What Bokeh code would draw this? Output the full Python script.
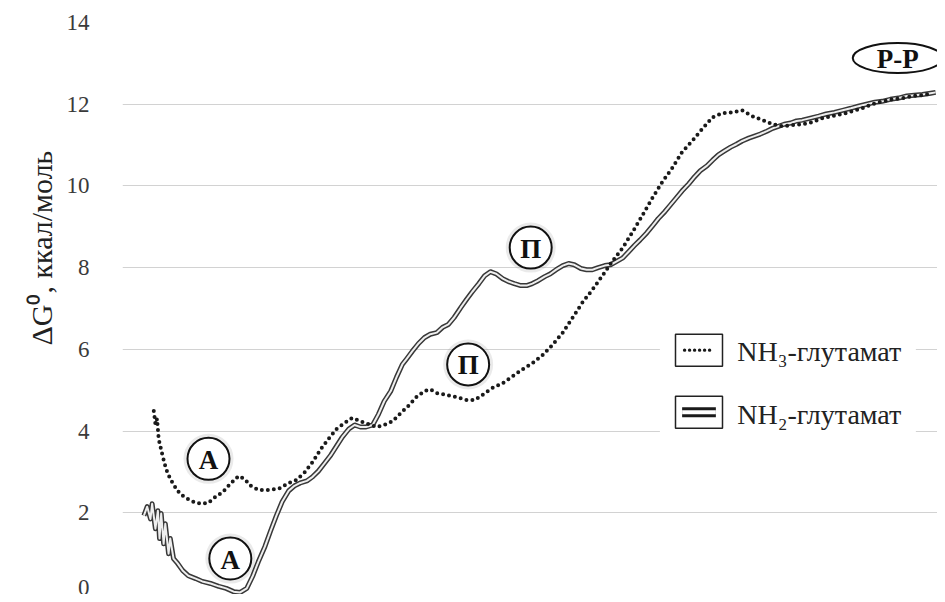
import math
from bokeh.plotting import figure
from bokeh.models import Range1d, FixedTicker, Title
from bokeh.core.properties import value
from bokeh.embed import file_html
from bokeh.resources import INLINE

# ---------------- data ----------------
y_ticks = [0, 2, 4, 6, 8, 10, 12, 14]
y_title = "ΔG⁰, ккал/моль"
series_names = ["NH₃-глутамат", "NH₂-глутамат"]

# NH3-glutamate (dotted)
nh3_x = [3.8, 4.0, 4.2, 4.4, 4.9, 5.3, 5.8, 6.4, 7.0, 8.3, 9.5, 10.4, 11.3, 12.2, 13.1, 14.1,
         14.8, 15.6, 16.5, 17.7, 19.0, 20.2, 21.1, 22.1, 23.1, 24.1, 25.0, 26.0, 27.0, 27.9,
         28.9, 29.9, 30.9, 31.8, 32.8, 33.8, 34.8, 35.7, 36.7, 37.4, 38.2, 39.4, 40.6, 41.8,
         42.8, 43.7, 44.9, 46.2, 47.4, 48.6, 49.8, 51.0, 52.2, 53.5, 54.7, 55.9, 57.1, 58.3,
         59.5, 60.8, 62.0, 63.2, 64.4, 65.6, 66.8, 68.0, 69.3, 70.5, 71.7, 72.9, 74.1, 75.3,
         76.5, 77.8, 79.0, 80.2, 81.4, 82.6, 83.8, 85.1, 86.3, 87.5, 88.7, 89.9, 91.1, 92.3,
         93.6, 94.8, 96.0, 97.2, 98.4]
nh3_y = [4.49, 4.17, 4.30, 3.80, 3.37, 3.07, 2.83, 2.63, 2.46, 2.29, 2.22, 2.24, 2.39, 2.51,
         2.71, 2.90, 2.83, 2.66, 2.56, 2.56, 2.59, 2.73, 2.80, 2.98, 3.24, 3.56, 3.80, 4.05,
         4.20, 4.32, 4.24, 4.17, 4.10, 4.15, 4.24, 4.44, 4.63, 4.83, 4.98, 5.02, 4.93, 4.88,
         4.83, 4.76, 4.76, 4.88, 5.05, 5.17, 5.34, 5.51, 5.66, 5.85, 6.10, 6.41, 6.78, 7.15,
         7.46, 7.80, 8.15, 8.49, 8.88, 9.29, 9.71, 10.10, 10.44, 10.83, 11.12, 11.41, 11.68,
         11.78, 11.80, 11.85, 11.71, 11.61, 11.51, 11.46, 11.49, 11.51, 11.56, 11.66, 11.71,
         11.76, 11.83, 11.90, 12.00, 12.07, 12.12, 12.15, 12.20, 12.22, 12.27]

# NH2-glutamate (double line)
nh2_x = [2.6, 3.0, 3.4, 3.6, 4.0, 4.3, 4.5, 4.7, 5.0, 5.2, 5.6, 5.8, 6.2, 6.7, 7.3, 8.0, 8.9,
         9.7, 10.7, 11.7, 12.6, 13.5, 14.3, 15.1, 15.8, 16.5, 17.3, 18.0, 18.7, 19.4, 20.2,
         20.9, 21.6, 22.4, 23.1, 23.8, 24.5, 25.3, 26.0, 26.7, 27.5, 28.2, 28.9, 29.6, 30.4,
         31.1, 31.8, 32.6, 33.3, 34.0, 34.5, 35.2, 36.0, 36.7, 37.4, 38.2, 38.9, 39.6, 40.3,
         41.1, 41.8, 42.5, 43.3, 44.0, 44.7, 45.4, 46.2, 46.9, 47.6, 48.4, 49.1, 49.8, 50.5,
         51.3, 52.0, 52.7, 53.5, 54.2, 54.9, 55.7, 56.4, 57.1, 57.8, 58.6, 59.3, 60.0, 60.8,
         61.5, 62.2, 62.9, 63.7, 64.4, 65.1, 65.9, 66.6, 67.3, 68.0, 68.8, 69.5, 70.2, 71.0,
         71.7, 72.4, 73.1, 73.9, 74.6, 75.3, 76.1, 76.8, 77.5, 78.3, 79.0, 79.7, 80.4, 81.2,
         81.9, 82.6, 83.6, 84.6, 85.5, 86.5, 87.5, 88.5, 89.4, 90.4, 91.4, 92.3, 93.3, 94.3,
         95.3, 96.2, 97.2, 98.2, 98.8]
nh2_y = [1.93, 2.15, 1.85, 2.22, 1.61, 2.05, 1.37, 1.98, 1.24, 1.73, 1.00, 1.37, 0.88, 0.76,
         0.59, 0.46, 0.39, 0.32, 0.27, 0.20, 0.15, 0.07, 0.05, 0.15, 0.44, 0.80, 1.17, 1.56,
         1.93, 2.27, 2.54, 2.66, 2.73, 2.78, 2.88, 3.02, 3.20, 3.41, 3.63, 3.85, 4.05, 4.15,
         4.10, 4.10, 4.15, 4.41, 4.73, 4.98, 5.32, 5.63, 5.76, 5.95, 6.15, 6.29, 6.37, 6.41,
         6.54, 6.61, 6.78, 7.02, 7.22, 7.41, 7.61, 7.80, 7.90, 7.85, 7.73, 7.66, 7.61, 7.56,
         7.56, 7.61, 7.68, 7.78, 7.85, 7.95, 8.05, 8.10, 8.07, 7.98, 7.95, 7.95, 8.00, 8.05,
         8.07, 8.15, 8.24, 8.39, 8.54, 8.68, 8.85, 9.02, 9.20, 9.37, 9.54, 9.71, 9.88, 10.05,
         10.22, 10.37, 10.49, 10.63, 10.76, 10.85, 10.95, 11.02, 11.10, 11.17, 11.22, 11.27,
         11.34, 11.41, 11.46, 11.51, 11.54, 11.59, 11.61, 11.66, 11.71, 11.76, 11.80, 11.85,
         11.90, 11.95, 12.00, 12.05, 12.07, 12.12, 12.15, 12.20, 12.22, 12.24, 12.27, 12.29]

# circled annotations
ann_text = ["А", "А", "П", "П"]
ann_x = [10.45, 13.1, 49.6, 42.0]
ann_y = [3.32, 0.88, 8.49, 5.63]
rr_text = "Р-Р"
rr_x = 94.2
rr_y = 13.13

# ---------------- figure ----------------
SERIF = "Liberation Serif"
p = figure(width=937, height=594, output_backend="svg", toolbar_location=None,
           x_range=Range1d(0, 99.03), y_range=Range1d(0, 14), x_axis_location=None,
           min_border_left=122, min_border_right=0, min_border_top=22, min_border_bottom=0)
p.outline_line_color = None
p.background_fill_color = "white"
p.border_fill_color = "white"
p.xgrid.grid_line_color = None
p.ygrid.grid_line_color = "#d2d2d2"
p.ygrid.grid_line_width = 1
p.yaxis.ticker = FixedTicker(ticks=y_ticks)
p.yaxis.axis_line_color = None
p.yaxis.major_tick_line_color = None
p.yaxis.minor_tick_line_color = None
p.yaxis.major_label_standoff = 27
p.yaxis.major_label_text_font = SERIF
p.yaxis.major_label_text_font_size = "23px"
p.yaxis.major_label_text_color = "#3a3a3a"

# y title (side panel, positioned along the axis)
p.add_layout(Title(text=y_title, align="left", offset=249, standoff=12,
                   text_font=SERIF, text_font_size="30px", text_font_style="normal",
                   text_color="#222222"), "left")

# NH2 double line
p.line(nh2_x, nh2_y, line_color="#383838", line_width=5, line_join="round")
p.line(nh2_x, nh2_y, line_color="#eeeeee", line_width=2, line_join="round")

# NH3 dotted
p.line(nh3_x, nh3_y, line_color="#1a1a1a", line_width=4, line_dash="0 6",
       line_cap="round", line_join="round")

# circled letters with soft glow
p.scatter(ann_x, ann_y, size=50, marker="circle", fill_color="#888888", fill_alpha=0.18,
          line_color=None)
p.scatter(ann_x, ann_y, size=42, marker="circle", fill_color="white",
          line_color="#111111", line_width=2)
p.text(ann_x, ann_y, text=ann_text, text_align="center", text_baseline="middle",
       text_font=value(SERIF), text_font_style="bold", text_font_size="27px",
       text_color="#111111", y_offset=1)

p.ellipse([rr_x], [rr_y], width=90, height=30, width_units="screen", height_units="screen",
          fill_color="white", line_color="#111111", line_width=2)
p.text([rr_x], [rr_y], text=[rr_text], text_align="center", text_baseline="middle",
       text_font=value(SERIF), text_font_style="bold", text_font_size="27px",
       text_color="#111111", y_offset=1)

# legend (manual)
p.quad(left=[65.3], right=[96.4], bottom=[3.75], top=[6.5], fill_color="white",
       line_color=None)
p.rect([70.05, 70.05], [5.98, 4.46], width=47, height=32, width_units="screen",
       height_units="screen", fill_color="white", line_color="#222222", line_width=1.5)
p.line([68.3, 71.9], [5.98, 5.98], line_color="#1a1a1a", line_width=3.4, line_dash="0 5",
       line_cap="round")
p.line([68.0, 72.1], [4.46, 4.46], line_color="#1a1a1a", line_width=10)
p.line([68.0, 72.1], [4.46, 4.46], line_color="white", line_width=4)
p.text([74.7, 74.7], [5.95, 4.41], text=series_names, text_align="left",
       text_baseline="middle", text_font=value(SERIF), text_font_size="28px",
       text_color="#222222")

open("out.html", "w").write(file_html(p, INLINE))
